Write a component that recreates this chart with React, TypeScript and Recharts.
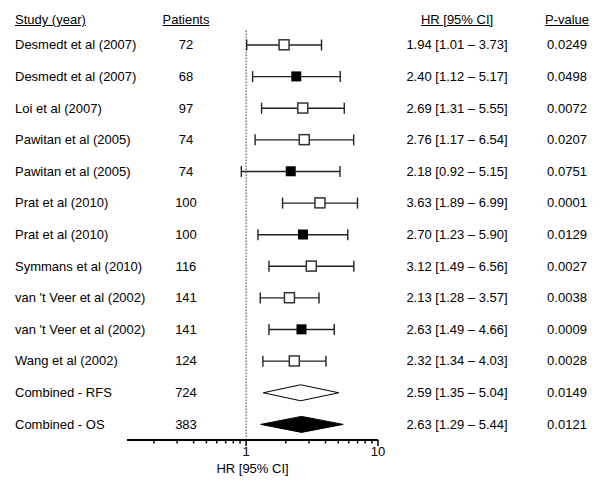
import { ComposedChart, Bar, Scatter, XAxis, YAxis, ReferenceLine } from 'recharts';

const studies = [
  'Desmedt et al (2007)',
  'Desmedt et al (2007)',
  'Loi et al (2007)',
  'Pawitan et al (2005)',
  'Pawitan et al (2005)',
  'Prat et al (2010)',
  'Prat et al (2010)',
  'Symmans et al (2010)',
  "van 't Veer et al (2002)",
  "van 't Veer et al (2002)",
  'Wang et al (2002)',
  'Combined - RFS',
  'Combined - OS',
];
const patients = [72, 68, 97, 74, 74, 100, 100, 116, 141, 141, 124, 724, 383];
const hazardRatios = [1.94, 2.4, 2.69, 2.76, 2.18, 3.63, 2.7, 3.12, 2.13, 2.63, 2.32, 2.59, 2.63];
const lowerCI = [1.01, 1.12, 1.31, 1.17, 0.92, 1.89, 1.23, 1.49, 1.28, 1.49, 1.34, 1.35, 1.29];
const upperCI = [3.73, 5.17, 5.55, 6.54, 5.15, 6.99, 5.9, 6.56, 3.57, 4.66, 4.03, 5.04, 5.44];
const pValues = ['0.0249', '0.0498', '0.0072', '0.0207', '0.0751', '0.0001', '0.0129', '0.0027', '0.0038', '0.0009', '0.0028', '0.0149', '0.0121'];
// open = RFS, filled = OS, diamonds for the pooled rows
const markers = ['open', 'filled', 'open', 'open', 'filled', 'open', 'filled', 'open', 'open', 'filled', 'open', 'rfs', 'os'];
const xTicks = [0.2, 0.3, 0.4, 0.5, 0.6, 0.7, 0.8, 0.9, 1, 2, 3, 4, 5, 6, 7, 8, 9, 10];

const rows = studies.map((study, i) => ({
  id: `row${i}`,
  study,
  patients: patients[i],
  hr: hazardRatios[i],
  ci: [lowerCI[i], upperCI[i]],
  p: pValues[i],
  marker: markers[i],
}));

const FONT = '"Liberation Sans", Arial, sans-serif';

const RowTick = (props: any) => {
  const { y, payload } = props;
  const row = rows.find(r => r.id === payload.value);
  if (!row) return null;
  const ty = y + 4.5;
  const [lo, hi] = row.ci;
  return (
    <g fontFamily={FONT} fontSize={13} fill="#000">
      <text x={15} y={ty}>{row.study}</text>
      <text x={186} y={ty} textAnchor="middle">{row.patients}</text>
      <text x={457} y={ty} textAnchor="middle">
        {`${row.hr.toFixed(2)} [${lo.toFixed(2)} \u2013 ${hi.toFixed(2)}]`}
      </text>
      <text x={567} y={ty} textAnchor="middle">{row.p}</text>
    </g>
  );
};

const AxisTick = (props: any) => {
  const { x, y, payload } = props;
  const major = payload.value === 1 || payload.value === 10;
  return (
    <g>
      <line x1={x} y1={y} x2={x} y2={y + (major ? 6 : 3.5)} stroke="#000" strokeWidth={1.5} />
      {major && (
        <text x={x} y={y + 16} textAnchor="middle" fontFamily={FONT} fontSize={13} fill="#000">
          {payload.value}
        </text>
      )}
    </g>
  );
};

const CIShape = (props: any) => {
  const { x, y, width, height, payload } = props;
  const cy = y + height / 2;
  if (payload.marker === 'rfs' || payload.marker === 'os') {
    const [lo, hi] = payload.ci;
    const frac = Math.log(payload.hr / lo) / Math.log(hi / lo);
    const mx = x + width * frac;
    return (
      <polygon
        points={`${x},${cy} ${mx},${y} ${x + width},${cy} ${mx},${y + height}`}
        fill={payload.marker === 'os' ? '#000' : '#fff'}
        stroke="#000"
        strokeWidth={1}
      />
    );
  }
  return (
    <g stroke="#222" strokeWidth={1.4}>
      <line x1={x} y1={cy} x2={x + width} y2={cy} />
      <line x1={x} y1={cy - 5.5} x2={x} y2={cy + 5.5} />
      <line x1={x + width} y1={cy - 5.5} x2={x + width} y2={cy + 5.5} />
    </g>
  );
};

const PointShape = (props: any) => {
  const { cx, cy, payload } = props;
  if (payload.marker === 'open') {
    return <rect x={cx - 5} y={cy - 5} width={10} height={10} fill="#fff" stroke="#333" strokeWidth={1.5} />;
  }
  if (payload.marker === 'filled') {
    return <rect x={cx - 5} y={cy - 5} width={10} height={10} fill="#000" />;
  }
  return <g />;
};

const header = (text: string, center: number | null, left?: number) => (
  <div
    style={{
      position: 'absolute',
      top: 12,
      left: center === null ? left : center - 60,
      width: center === null ? undefined : 120,
      textAlign: center === null ? 'left' : 'center',
      fontFamily: FONT,
      fontSize: 13,
      lineHeight: '15px',
      color: '#000',
      textDecoration: 'underline',
      whiteSpace: 'nowrap',
    }}
  >
    {text}
  </div>
);

export default function App() {
  return (
    <div style={{ position: 'absolute', left: 0, top: 0, width: 600, height: 487, background: '#fff' }}>
      <ComposedChart
        layout="vertical"
        width={600}
        height={487}
        data={rows}
        margin={{ top: 29, right: 222, bottom: 0, left: 0 }}
      >
        <XAxis
          type="number"
          scale="log"
          domain={[0.125, 10]}
          allowDataOverflow
          ticks={xTicks}
          interval={0}
          tick={<AxisTick />}
          tickLine={false}
          tickSize={0}
          tickMargin={0}
          axisLine={{ stroke: '#000', strokeWidth: 2 }}
          height={47}
          label={{ value: 'HR [95% CI]', position: 'insideBottom', offset: 14, fill: '#000', fontSize: 13, fontFamily: FONT }}
        />
        <YAxis
          type="category"
          dataKey="id"
          width={127}
          axisLine={false}
          tickLine={false}
          interval={0}
          tick={<RowTick />}
        />
        <ReferenceLine x={1} stroke="#333" strokeDasharray="1.5 1.5" />
        <Bar dataKey="ci" barSize={16} shape={<CIShape />} isAnimationActive={false} />
        <Scatter dataKey="hr" shape={<PointShape />} isAnimationActive={false} />
      </ComposedChart>
      {header('Study (year)', null, 15)}
      {header('Patients', 186)}
      {header('HR [95% CI]', 457)}
      {header('P-value', 567)}
    </div>
  );
}
